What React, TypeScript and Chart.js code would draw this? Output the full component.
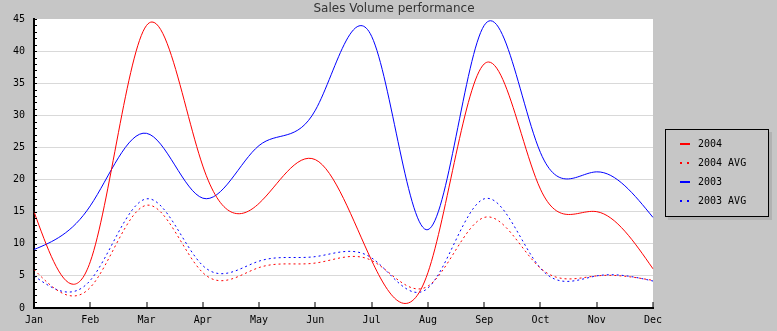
import React, { useEffect, useRef } from "react";
import { Chart, registerables } from "chart.js";

Chart.register(...registerables);

const titleText = "Sales Volume performance";
const months = ["Jan", "Feb", "Mar", "Apr", "May", "Jun", "Jul", "Aug", "Sep", "Oct", "Nov", "Dec"];
const sales2004 = [15, 7.2, 44.0, 22.1, 16.3, 23.1, 7.4, 5.5, 38.0, 18.5, 15.0, 6.1];
const avg2004 = [6.0, 3.2, 16.0, 5.5, 6.3, 7.0, 7.4, 3.4, 14.1, 6.2, 5.0, 4.3];
const sales2003 = [9.1, 15.9, 27.2, 17.1, 25.3, 30.8, 42.3, 12.2, 44.0, 24.2, 21.2, 14.1];
const avg2003 = [5.0, 4.3, 17.0, 6.6, 7.3, 8.0, 7.8, 3.1, 17.0, 6.2, 5.0, 4.2];
const seriesLabels = ["2004", "2004 AVG", "2003", "2003 AVG"];
const yMin = 0;
const yMax = 45;
const yStep = 5;

const BG = "#c6c6c6";
const MONO = "'DejaVu Sans Mono', monospace";

const naturalSpline = {
  id: "naturalSpline",
  beforeDatasetsDraw(chart: any) {
    chart.data.datasets.forEach((_: any, di: number) => {
      const meta = chart.getDatasetMeta(di);
      const line = meta.dataset;
      const pts = meta.data;
      const n = pts.length;
      if (!line || n < 3) return;
      if (line.updateControlPoints) line.updateControlPoints(chart.chartArea, "x");
      const xs = pts.map((p: any) => p.x);
      const ys = pts.map((p: any) => p.y);
      const h: number[] = [];
      for (let i = 0; i < n - 1; i++) h[i] = xs[i + 1] - xs[i];
      const M = new Array(n).fill(0);
      const m = n - 2;
      const a: number[] = [], b: number[] = [], c: number[] = [], d: number[] = [];
      for (let k = 0; k < m; k++) {
        const i = k + 1;
        a[k] = h[i - 1];
        b[k] = 2 * (h[i - 1] + h[i]);
        c[k] = h[i];
        d[k] = 6 * ((ys[i + 1] - ys[i]) / h[i] - (ys[i] - ys[i - 1]) / h[i - 1]);
      }
      for (let k = 1; k < m; k++) {
        const w = a[k] / b[k - 1];
        b[k] -= w * c[k - 1];
        d[k] -= w * d[k - 1];
      }
      const sol = new Array(m);
      sol[m - 1] = d[m - 1] / b[m - 1];
      for (let k = m - 2; k >= 0; k--) sol[k] = (d[k] - c[k] * sol[k + 1]) / b[k];
      for (let k = 0; k < m; k++) M[k + 1] = sol[k];
      for (let i = 0; i < n - 1; i++) {
        const s = (ys[i + 1] - ys[i]) / h[i];
        const mL = s - (h[i] * (2 * M[i] + M[i + 1])) / 6;
        const mR = s + (h[i] * (M[i] + 2 * M[i + 1])) / 6;
        pts[i].cp2x = xs[i] + h[i] / 3;
        pts[i].cp2y = ys[i] + (mL * h[i]) / 3;
        pts[i + 1].cp1x = xs[i + 1] - h[i] / 3;
        pts[i + 1].cp1y = ys[i + 1] - (mR * h[i]) / 3;
      }
      line._path = undefined;
    });
  },
};

const background = {
  id: "bgPlot",
  beforeDraw(chart: any) {
    const { ctx, chartArea } = chart;
    ctx.save();
    ctx.fillStyle = BG;
    ctx.fillRect(0, 0, chart.width, chart.height);
    ctx.fillStyle = "#ffffff";
    ctx.fillRect(chartArea.left, chartArea.top, chartArea.right - chartArea.left, chartArea.bottom - chartArea.top);
    ctx.restore();
  },
};

const decorations = {
  id: "decorations",
  afterDraw(chart: any) {
    const { ctx, chartArea } = chart;
    const xs = chart.scales.x;
    const ys = chart.scales.y;
    ctx.save();
    ctx.fillStyle = "#000";
    for (let v = yMin; v <= yMax; v++) {
      const py = Math.round(ys.getPixelForValue(v));
      ctx.fillRect(chartArea.left, py, 3, 1);
    }
    for (let i = 0; i < months.length; i++) {
      const px = Math.round(xs.getPixelForValue(i));
      ctx.fillRect(px - 0.5, chartArea.bottom - 6, 1, 6);
    }
    ctx.fillStyle = "#333333";
    ctx.font = "12px 'DejaVu Sans', sans-serif";
    ctx.textAlign = "center";
    ctx.textBaseline = "alphabetic";
    ctx.fillText(titleText, 394, 12);
    const lx = 665, ly = 129, lw = 104, lh = 88;
    ctx.fillStyle = "#b2b2b2";
    ctx.fillRect(lx + 3, ly + 3, lw, lh);
    ctx.fillStyle = BG;
    ctx.fillRect(lx, ly, lw, lh);
    ctx.strokeStyle = "#000";
    ctx.lineWidth = 1;
    ctx.strokeRect(lx + 0.5, ly + 0.5, lw - 1, lh - 1);
    ctx.font = "10px " + MONO;
    ctx.textAlign = "left";
    ctx.textBaseline = "middle";
    chart.data.datasets.forEach((ds: any, i: number) => {
      const y = 143.5 + i * 19.1;
      ctx.fillStyle = ds.borderColor;
      if (ds.borderDash && ds.borderDash.length) {
        ctx.fillRect(680, Math.round(y) - 1, 2, 2);
        ctx.fillRect(687, Math.round(y) - 1, 2, 2);
      } else {
        ctx.fillRect(680, Math.round(y) - 1, 10, 2);
      }
      ctx.fillStyle = "#000";
      ctx.fillText(ds.label, 698, y + 0.5);
    });
    ctx.restore();
  },
};

export default function App() {
  const ref = useRef<HTMLCanvasElement | null>(null);
  useEffect(() => {
    document.body.style.margin = "0";
    const canvas = ref.current;
    if (!canvas) return;
    const chart = new Chart(canvas, {
      type: "line",
      data: {
        labels: months,
        datasets: [
          { label: seriesLabels[0], data: sales2004, borderColor: "#ff0000", backgroundColor: "#ff0000" },
          { label: seriesLabels[1], data: avg2004, borderColor: "#ff0000", backgroundColor: "#ff0000", borderDash: [2, 3] },
          { label: seriesLabels[2], data: sales2003, borderColor: "#0000ff", backgroundColor: "#0000ff" },
          { label: seriesLabels[3], data: avg2003, borderColor: "#0000ff", backgroundColor: "#0000ff", borderDash: [2, 3] },
        ],
      },
      options: {
        animation: false,
        responsive: false,
        devicePixelRatio: 1,
        layout: { padding: { top: 19, right: 124, left: 0, bottom: 0 } },
        plugins: { legend: { display: false }, title: { display: false }, tooltip: { enabled: false } },
        elements: {
          point: { radius: 0, hoverRadius: 0 },
          line: { tension: 0.4, borderWidth: 1, fill: false, capBezierPoints: false },
        },
        scales: {
          x: {
            type: "category",
            offset: false,
            grid: { drawOnChartArea: false, drawTicks: false },
            border: { display: true, color: "#000", width: 2 },
            ticks: { color: "#000", font: { family: MONO, size: 10 }, padding: 6, maxRotation: 0, autoSkip: false },
            afterFit(s: any) { s.height = 23; },
          },
          y: {
            min: yMin,
            max: yMax,
            ticks: { stepSize: yStep, color: "#000", font: { family: MONO, size: 10 }, padding: 9 },
            grid: {
              drawTicks: false,
              lineWidth: 1,
              color: (c: any) => (c.tick && c.tick.value > yMin && c.tick.value < yMax ? "#d9d9d9" : "rgba(0,0,0,0)"),
            },
            border: { display: true, color: "#000", width: 2 },
            afterFit(s: any) { s.width = 34; },
          },
        },
      },
      plugins: [background, naturalSpline, decorations],
    } as any);
    return () => chart.destroy();
  }, []);
  return <canvas ref={ref} width={777} height={331} style={{ display: "block" }} />;
}
